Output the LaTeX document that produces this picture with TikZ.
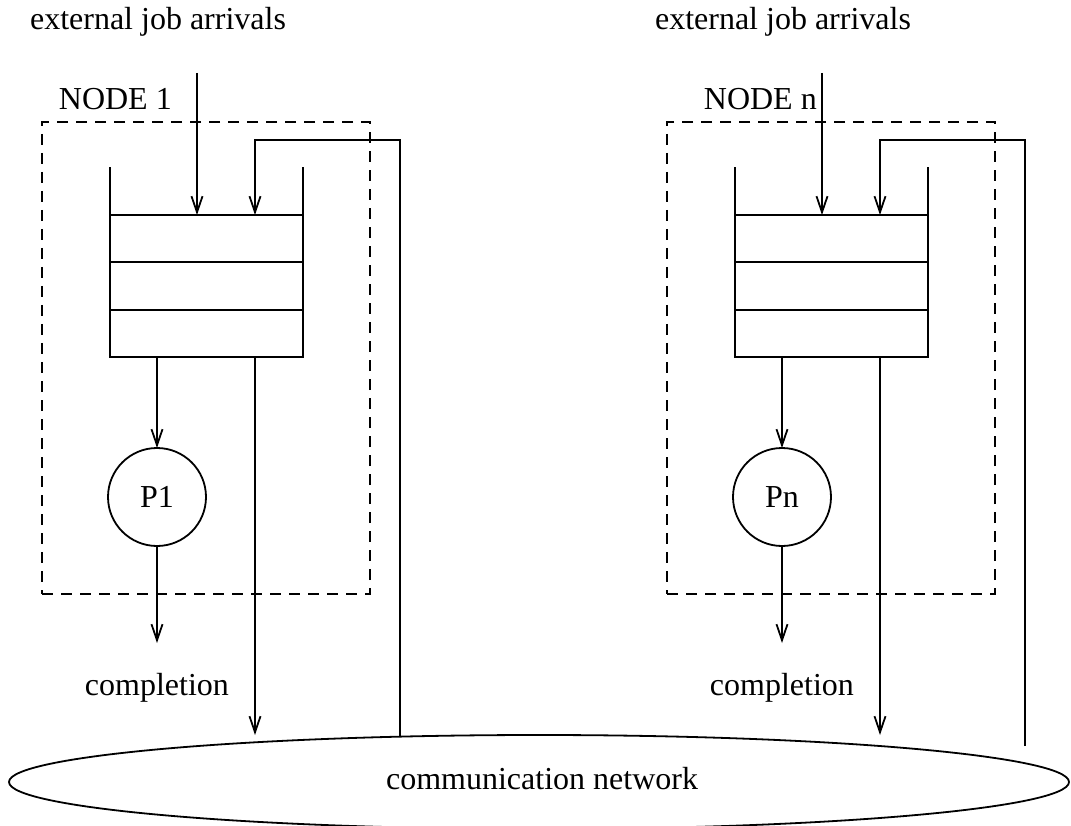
\documentclass[tikz,border=0pt]{standalone}
\usepackage{fontspec}
\setmainfont{Liberation Serif}
\usetikzlibrary{arrows.meta,calc,shapes.geometric}
\begin{document}
\begin{tikzpicture}[x=1pt,y=-1pt,
  line width=1.8pt,
  every node/.style={font=\fontsize{32}{38}\selectfont},
  arr/.style={-{Straight Barb[length=16pt,width=11pt,line width=1.8pt]}},
  rowbox/.style={draw,rectangle,minimum width=193pt,minimum height=47.33pt,inner sep=0pt,outer sep=0pt},
  procbox/.style={draw,circle,minimum size=98pt,inner sep=0pt,outer sep=0pt},
  nodebox/.style={draw,dash pattern=on 11pt off 8pt,rectangle,minimum width=328pt,minimum height=472pt,inner sep=0pt,outer sep=0pt},
  txt/.style={inner sep=0pt}]
\useasboundingbox (0,0) rectangle (1071,826);

% communication network
\node[draw,ellipse,minimum width=1060pt,minimum height=94pt,inner sep=0pt,outer sep=0pt] (net) at (539,782) {};
\node[txt,anchor=base] (netlbl) at (542,789) {communication network};

% one processing site: offset, suffix, labels
\foreach \dx/\s/\lbl/\lx/\pl in {0/1/NODE 1/58/P1, 625/n/NODE n/78/Pn}{
  \begin{scope}[xshift=\dx]
    \node[txt,anchor=base] (arr\s) at (158,30) {external job arrivals};
    \node[nodebox] (box\s) at (206,358) {};
    \node[txt,anchor=base west] (lbl\s) at (\lx,110) {\lbl};
    % queue rows
    \node[rowbox] (qa\s) at (206.5,238.67) {};
    \node[rowbox] (qb\s) at (206.5,286) {};
    \node[rowbox] (qc\s) at (206.5,333.33) {};
    \draw (qa\s.north west) -- ++(0,-48);
    \draw (qa\s.north east) -- ++(0,-48);
    % processor
    \node[procbox] (p\s) at (157,497) {\pl};
    \node[txt,anchor=base west] (comp\s) at (84,695) {completion};
    \coordinate (arrtop\s) at (197,73);
    \coordinate (fbtop\s) at (400,140);
    \coordinate (outend\s) at (255,735);
    % connectors
    \draw[arr] (arrtop\s) -- (arrtop\s |- qa\s.north);
    \draw[arr] (p\s |- qc\s.south) -- (p\s.north);
    \draw[arr] (p\s.south) -- ++(0,97);
    \draw[arr] (outend\s |- qc\s.south) -- (outend\s);
  \end{scope}
}
% feedback from the network into each queue
\coordinate (fbbot1) at (400,737);
\coordinate (fbbotn) at (1025,746);
\draw[arr] (fbbot1) -- (fbtop1) -| (outend1 |- qa1.north);
\draw[arr] (fbbotn) -- (fbtopn) -| (outendn |- qan.north);
\end{tikzpicture}
\end{document}
